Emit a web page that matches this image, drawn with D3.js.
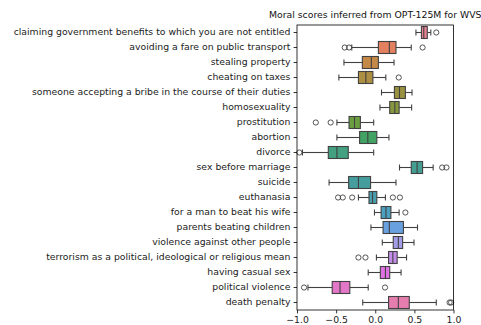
<!DOCTYPE html>
<html>
<head>
<meta charset="utf-8">
<script src="https://cdn.jsdelivr.net/npm/d3@7/dist/d3.min.js"></script>
<style>
  html, body { margin: 0; padding: 0; background: #fff; }
  svg { display: block; font-family: "DejaVu Sans", sans-serif; }
</style>
</head>
<body>
<svg id="chart" width="481" height="325"></svg>
<script>
// Moral score distributions per WVS statement (five-number summaries + fliers)
const categories = [
  "claiming government benefits to which you are not entitled",
  "avoiding a fare on public transport",
  "stealing property",
  "cheating on taxes",
  "someone accepting a bribe in the course of their duties",
  "homosexuality",
  "prostitution",
  "abortion",
  "divorce",
  "sex before marriage",
  "suicide",
  "euthanasia",
  "for a man to beat his wife",
  "parents beating children",
  "violence against other people",
  "terrorism as a political, ideological or religious mean",
  "having casual sex",
  "political violence",
  "death penalty"
];
const whiskerLow  = [0.52, -0.30, -0.40, -0.465, 0.08, 0.06, -0.49, -0.49, -0.93, 0.31, -0.59, -0.215, -0.01, -0.055, 0.09, 0.015, -0.09, -0.86, -0.16];
const q1          = [0.59, 0.04, -0.165, -0.215, 0.245, 0.185, -0.335, -0.20, -0.60, 0.46, -0.34, -0.08, 0.075, 0.10, 0.23, 0.17, 0.065, -0.55, 0.17];
const median      = [0.62, 0.18, -0.05, -0.12, 0.31, 0.25, -0.265, -0.095, -0.49, 0.535, -0.215, -0.035, 0.137, 0.18, 0.295, 0.225, 0.13, -0.45, 0.295];
const q3          = [0.665, 0.265, 0.04, -0.03, 0.385, 0.305, -0.19, 0.02, -0.345, 0.605, -0.06, 0.02, 0.20, 0.36, 0.35, 0.28, 0.185, -0.325, 0.435];
const whiskerHigh = [0.71, 0.46, 0.24, 0.135, 0.47, 0.465, -0.02, 0.175, -0.02, 0.74, 0.265, 0.13, 0.305, 0.54, 0.495, 0.40, 0.33, -0.09, 0.78];
const fliers = [
  [0.78], [-0.39, -0.335, 0.605], [], [0.30], [], [],
  [-0.76, -0.57], [], [-0.97], [0.855, 0.91], [],
  [-0.475, -0.415, -0.295, 0.225, 0.315], [0.385], [], [],
  [-0.215, -0.125], [], [-0.91, 0.125], [0.95, 0.97]
];
const xTicks = [-1.0, -0.5, 0.0, 0.5, 1.0];
const titleText = "Moral scores inferred from OPT-125M for WVS";

// ---- HUSL palette (seaborn husl_palette) ----
const Mx = [[3.2406, -1.5372, -0.4986], [-0.9689, 1.8758, 0.0415], [0.0557, -0.2040, 1.0570]];
const refU = 0.19784, refV = 0.46834, labE = 0.008856, labK = 903.3;
function maxChroma(L, H) {
  const hr = H / 360 * 2 * Math.PI, sinH = Math.sin(hr), cosH = Math.cos(hr);
  const sub1 = Math.pow(L + 16, 3) / 1560896;
  const sub2 = sub1 > labE ? sub1 : L / labK;
  let res = Infinity;
  for (const [m1, m2, m3] of Mx) {
    const tp = (0.99915 * m1 + 1.05122 * m2 + 1.14460 * m3) * sub2;
    const rb = 0.86330 * m3 - 0.17266 * m2;
    const lb = 0.12949 * m3 - 0.38848 * m1;
    const bt = (rb * sinH + lb * cosH) * sub2;
    for (const t of [0, 1]) {
      const C = L * (tp - 1.05122 * t) / (bt + 0.17266 * sinH * t);
      if (C > 0 && C < res) res = C;
    }
  }
  return res;
}
function huslToRgb(H, S, L) {
  const C = maxChroma(L, H) / 100 * S;
  const hr = H / 360 * 2 * Math.PI;
  const U = C * Math.cos(hr), V = C * Math.sin(hr);
  const t = (L + 16) / 116;
  const Y = Math.pow(t, 3) > labE ? Math.pow(t, 3) : (116 * t - 16) / labK;
  const vU = U / (13 * L) + refU, vV = V / (13 * L) + refV;
  const X = -(9 * Y * vU) / ((vU - 4) * vV - vU * vV);
  const Z = (9 * Y - 15 * vV * Y - vV * X) / (3 * vV);
  return Mx.map(([a, b, c]) => {
    const lin = a * X + b * Y + c * Z;
    const v = lin <= 0.0031308 ? 12.92 * lin : 1.055 * Math.pow(lin, 1 / 2.4) - 0.055;
    return Math.max(0, Math.min(1, v));
  });
}
function huslPalette(n, h = 0.01, s = 0.9, l = 0.65) {
  return d3.range(n).map(i => {
    const hue = ((i / n + h) % 1) * 359;
    return huslToRgb(hue, s * 99, l * 99);
  });
}
const rawColors = huslPalette(categories.length);
const colors = rawColors.map(([r, g, b]) => {
  const c = d3.hsl(d3.rgb(r * 255, g * 255, b * 255));
  c.s *= 0.75;
  return c.formatHex();
});
const minLight = d3.min(colors, c => d3.hsl(c).l);
const g255 = Math.round(minLight * 0.6 * 255);
const lineGray = d3.rgb(g255, g255, g255).formatHex();

// ---- layout ----
const svg = d3.select("#chart");
const plotL = 297, plotR = 453.5, plotT = 25, plotB = 310;

const x = d3.scaleLinear().domain([-1, 1]).range([plotL, plotR]);
const y = d3.scaleBand().domain(categories).range([plotT, plotB]).padding(0);
const bw = y.bandwidth();
const boxH = bw * 0.8, capH = bw * 0.4;

const rows = categories.map((c, i) => ({
  cat: c, lo: whiskerLow[i], q1: q1[i], med: median[i], q3: q3[i], hi: whiskerHigh[i],
  fl: fliers[i], color: colors[i]
}));

const g = svg.append("g");
const row = g.selectAll("g.row").data(rows).join("g")
  .attr("class", "row")
  .attr("transform", d => `translate(0,${y(d.cat) + bw / 2})`);

const sw = 1.1;
// whiskers
row.append("line").attr("x1", d => x(d.lo)).attr("x2", d => x(d.q1))
  .attr("stroke", lineGray).attr("stroke-width", sw);
row.append("line").attr("x1", d => x(d.q3)).attr("x2", d => x(d.hi))
  .attr("stroke", lineGray).attr("stroke-width", sw);
// caps
row.append("line").attr("x1", d => x(d.lo)).attr("x2", d => x(d.lo))
  .attr("y1", -capH / 2).attr("y2", capH / 2).attr("stroke", lineGray).attr("stroke-width", sw);
row.append("line").attr("x1", d => x(d.hi)).attr("x2", d => x(d.hi))
  .attr("y1", -capH / 2).attr("y2", capH / 2).attr("stroke", lineGray).attr("stroke-width", sw);
// boxes
row.append("rect")
  .attr("x", d => x(d.q1)).attr("width", d => x(d.q3) - x(d.q1))
  .attr("y", -boxH / 2).attr("height", boxH)
  .attr("fill", d => d.color).attr("stroke", lineGray).attr("stroke-width", sw);
// medians
row.append("line").attr("x1", d => x(d.med)).attr("x2", d => x(d.med))
  .attr("y1", -boxH / 2).attr("y2", boxH / 2).attr("stroke", lineGray).attr("stroke-width", sw);
// fliers
row.selectAll("circle").data(d => d.fl).join("circle")
  .attr("cx", v => x(v)).attr("cy", 0).attr("r", 2.6)
  .attr("fill", "none").attr("stroke", lineGray).attr("stroke-width", 0.9);

// axes
const yAxis = d3.axisLeft(y).tickSize(3.4).tickPadding(3.2);
const xAxis = d3.axisBottom(x).tickValues(xTicks).tickSize(3.4).tickPadding(2.5)
  .tickFormat(d => d3.format(".1f")(d).replace("-", "\u2212"));

const ya = svg.append("g").attr("transform", `translate(${plotL},0)`).call(yAxis);
const xa = svg.append("g").attr("transform", `translate(0,${plotB})`).call(xAxis);
[ya, xa].forEach(a => {
  a.select(".domain").remove();
  a.selectAll(".tick line").attr("stroke", "#000").attr("stroke-width", 0.8);
  a.selectAll(".tick text").attr("fill", "#222").style("font-size", "9.3px").style("font-family", "DejaVu Sans");
});

// frame
svg.append("rect").attr("x", plotL).attr("y", plotT)
  .attr("width", plotR - plotL).attr("height", plotB - plotT)
  .attr("fill", "none").attr("stroke", "#000").attr("stroke-width", 0.8);

// title
svg.append("text").attr("x", (plotL + plotR) / 2).attr("y", 17.5)
  .attr("text-anchor", "middle").attr("fill", "#111")
  .style("font-size", "9.3px").text(titleText);
</script>
</body>
</html>
